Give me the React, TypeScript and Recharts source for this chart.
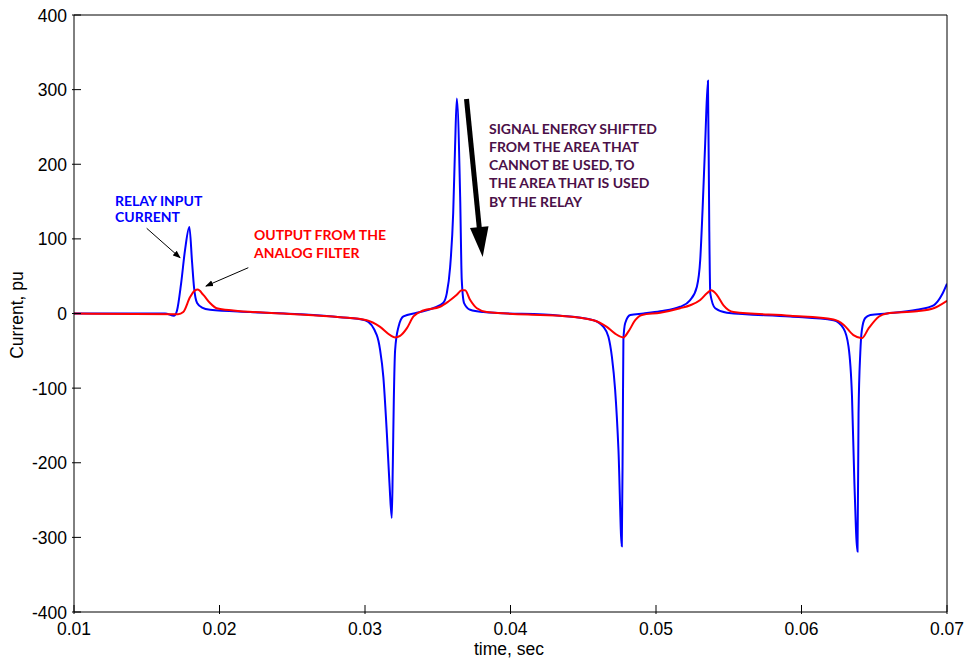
import React from "react";
import { LineChart, Line, XAxis, YAxis, ReferenceLine } from "recharts";

// Relay input current (blue)
const blueTime = [
  0.01, 0.01626, 0.01688, 0.01708, 0.01736, 0.01763, 0.01793, 0.01811, 0.01825, 0.01846,
  0.0188, 0.01935, 0.0221, 0.02554, 0.02829, 0.03001, 0.03081, 0.03104, 0.03126, 0.0315,
  0.03168, 0.03184, 0.03191, 0.03198, 0.03207, 0.0323, 0.03264, 0.03356, 0.03468, 0.03537,
  0.03562, 0.03585, 0.03606, 0.03619, 0.03631, 0.03654, 0.03665, 0.03681, 0.03723, 0.03814,
  0.04341, 0.0457, 0.04639, 0.04673, 0.04697, 0.04719, 0.04742, 0.04765, 0.04772, 0.04776,
  0.04788, 0.04823, 0.04914, 0.05029, 0.05166, 0.05235, 0.05281, 0.05304, 0.0532, 0.05338,
  0.05357, 0.05366, 0.05373, 0.05407, 0.05487, 0.05923, 0.0622, 0.06289, 0.06323, 0.06347,
  0.06363, 0.06385, 0.06392, 0.06404, 0.06415, 0.06438, 0.06473, 0.06587, 0.06793, 0.06908,
  0.06965, 0.07,
];
const blueCurrent = [
  0, 0, -3, 4, 40, 85, 116, 70, 35, 14,
  8, 5, 2, -1, -5, -9, -29, -49, -85, -160,
  -227, -274, -205, -116, -49, -18, -4, 1, 7, 14,
  27, 62, 134, 223, 288, 156, 45, 14, 5, 2,
  -3, -9, -18, -31, -58, -102, -183, -312, -147, -35,
  -13, -2, 0, 3, 9, 18, 36, 72, 139, 228,
  312, 116, 27, 7, 1, -4, -9, -20, -44, -111,
  -223, -319, -134, -53, -22, -6, -2, 0, 5, 11,
  25, 40,
];

// Output from the analog filter (red)
const redTime = [
  0.01, 0.01715, 0.01751, 0.01798, 0.01832, 0.0185, 0.01889, 0.01935, 0.01981, 0.02095,
  0.02439, 0.02829, 0.03012, 0.03104, 0.03173, 0.03207, 0.03241, 0.03287, 0.03333, 0.03401,
  0.03516, 0.03573, 0.03631, 0.03665, 0.03688, 0.03723, 0.03769, 0.03837, 0.04204, 0.04341,
  0.0457, 0.04662, 0.04719, 0.04776, 0.04811, 0.04857, 0.04903, 0.05029, 0.05166, 0.05235,
  0.05304, 0.0535, 0.05379, 0.05418, 0.05464, 0.05533, 0.05923, 0.0622, 0.06289, 0.06357,
  0.06415, 0.06461, 0.06533, 0.06587, 0.06793, 0.06908, 0.07,
];
const redCurrent = [
  0, -1, 2, 22, 31, 32, 25, 14, 7, 4,
  0, -5, -9, -18, -29, -32, -30, -20, -4, 4,
  9, 16, 25, 31, 31, 18, 7, 2, -2, -3,
  -9, -18, -27, -32, -24, -9, -2, 1, 7, 11,
  18, 27, 31, 25, 11, 2, -3, -8, -15, -29,
  -33, -20, -4, 0, 3, 7, 17,
];

const xTicks = [0.01, 0.02, 0.03, 0.04, 0.05, 0.06, 0.07];
const yTicks = [-400, -300, -200, -100, 0, 100, 200, 300, 400];

const blueData = blueTime.map((t, i) => ({ t, v: blueCurrent[i] }));
const redData = redTime.map((t, i) => ({ t, v: redCurrent[i] }));

const FONT = "'Liberation Sans', Arial, Helvetica, sans-serif";
const ANN_FONT = "Lato, 'Open Sans', sans-serif";

const BottomTick = (props: any) => {
  const { x, y, payload } = props;
  return (
    <g>
      <line x1={x} y1={y} x2={x} y2={y - 9} stroke="#000" strokeWidth={1} />
      <text x={x} y={y + 21} textAnchor="middle" fontSize={17.5} fontFamily={FONT} fill="#000">
        {String(payload.value)}
      </text>
    </g>
  );
};

const LeftTick = (props: any) => {
  const { x, y, payload } = props;
  return (
    <g>
      <line x1={x} y1={y} x2={x + 9} y2={y} stroke="#000" strokeWidth={1} />
      <text x={x - 5} y={y + 6.5} textAnchor="end" fontSize={17.5} fontFamily={FONT} fill="#000">
        {String(payload.value)}
      </text>
    </g>
  );
};

const TopTick = (props: any) => {
  const { x, y } = props;
  return <line x1={x} y1={y} x2={x} y2={y + 9} stroke="#000" strokeWidth={1} />;
};

const RightTick = (props: any) => {
  const { x, y } = props;
  return <line x1={x} y1={y} x2={x - 9} y2={y} stroke="#000" strokeWidth={1} />;
};

export default function App() {
  return (
    <div style={{ position: "absolute", left: 0, top: 0, width: 964, height: 659, background: "#fff" }}>
      <LineChart width={964} height={659} margin={{ top: 15, right: 17, bottom: 17, left: 0 }}>
        <XAxis
          xAxisId="b"
          dataKey="t"
          type="number"
          domain={[0.01, 0.07]}
          ticks={xTicks}
          allowDataOverflow
          height={30}
          tickSize={0}
          tickLine={false}
          axisLine={{ stroke: "#000", strokeWidth: 1 }}
          tick={<BottomTick />}
          interval={0}
        />
        <XAxis
          xAxisId="top"
          orientation="top"
          dataKey="t"
          type="number"
          domain={[0.01, 0.07]}
          ticks={xTicks}
          allowDataOverflow
          height={0}
          tickSize={0}
          tickLine={false}
          axisLine={{ stroke: "#000", strokeWidth: 1 }}
          tick={<TopTick />}
          interval={0}
        />
        <YAxis
          yAxisId="l"
          type="number"
          domain={[-400, 400]}
          ticks={yTicks}
          allowDataOverflow
          width={74}
          tickSize={0}
          tickLine={false}
          axisLine={{ stroke: "#000", strokeWidth: 1 }}
          tick={<LeftTick />}
          interval={0}
        />
        <YAxis
          yAxisId="r"
          orientation="right"
          type="number"
          domain={[-400, 400]}
          ticks={yTicks}
          allowDataOverflow
          width={0}
          tickSize={0}
          tickLine={false}
          axisLine={{ stroke: "#000", strokeWidth: 1 }}
          tick={<RightTick />}
          interval={0}
        />
        <Line
          xAxisId="b"
          yAxisId="l"
          data={blueData}
          dataKey="v"
          type="monotone"
          stroke="#0000ff"
          strokeWidth={2}
          dot={false}
          isAnimationActive={false}
        />
        <Line
          xAxisId="b"
          yAxisId="l"
          data={redData}
          dataKey="v"
          type="monotone"
          stroke="#ff0000"
          strokeWidth={2}
          dot={false}
          isAnimationActive={false}
        />
        <ReferenceLine xAxisId="b" yAxisId="l" y={400} stroke="#000" strokeWidth={1} ifOverflow="visible" />
        <ReferenceLine xAxisId="b" yAxisId="l" x={0.07} stroke="#000" strokeWidth={1} ifOverflow="visible" />
      </LineChart>
      <svg
        width={964}
        height={659}
        style={{ position: "absolute", left: 0, top: 0, pointerEvents: "none" }}
      >
        <defs>
          <marker id="thinHead" markerWidth="8" markerHeight="8" refX="7" refY="4" orient="auto" markerUnits="userSpaceOnUse">
            <path d="M0,1 L8,4 L0,7 Z" fill="#000" />
          </marker>
        </defs>
        <text x={509} y={655} textAnchor="middle" fontSize={17.5} fontFamily={FONT} fill="#000">
          time, sec
        </text>
        <text
          x={0}
          y={0}
          transform="translate(23,315) rotate(-90)"
          textAnchor="middle"
          fontSize={17.5}
          fontFamily={FONT}
          fill="#000"
        >
          Current, pu
        </text>
        <g fontFamily={ANN_FONT} fontSize={14} fontWeight={700}>
          <text x={115} y={205.5} fill="#0000ff">RELAY INPUT</text>
          <text x={115} y={221.5} fill="#0000ff">CURRENT</text>
          <text x={254} y={240} fill="#ff0000">OUTPUT FROM THE</text>
          <text x={254} y={258} fill="#ff0000">ANALOG FILTER</text>
          <g fill="#4b1048">
            <text x={489} y={133.5}>SIGNAL ENERGY SHIFTED</text>
            <text x={489} y={151.8}>FROM THE AREA THAT</text>
            <text x={489} y={170.1}>CANNOT BE USED, TO</text>
            <text x={489} y={188.4}>THE AREA THAT IS USED</text>
            <text x={489} y={206.7}>BY THE RELAY</text>
          </g>
        </g>
        <line x1={146.7} y1={228.3} x2={180} y2={257.7} stroke="#000" strokeWidth={1} markerEnd="url(#thinHead)" />
        <line x1={248.3} y1={267.7} x2={206} y2={286} stroke="#000" strokeWidth={1} markerEnd="url(#thinHead)" />
        <line x1={466.5} y1={99} x2={479.5} y2={230} stroke="#000" strokeWidth={5} />
        <path d="M470,228 L488.5,226.2 L482.7,257 Z" fill="#000" />
      </svg>
    </div>
  );
}
